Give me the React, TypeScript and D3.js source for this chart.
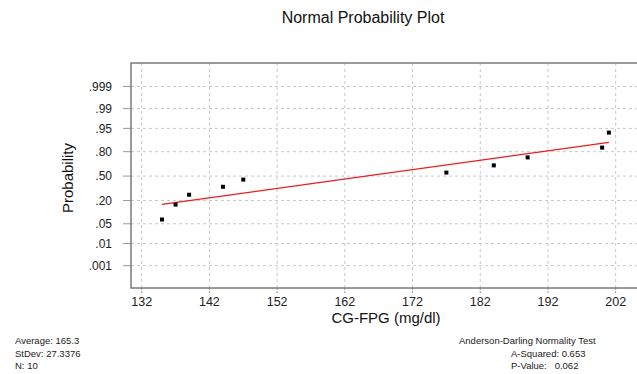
import React, { useEffect, useRef } from "react";
import * as d3 from "d3";

// observed CG-FPG values (mg/dl) and their median-rank plotting positions
const values = [135, 137, 139, 144, 147, 177, 184, 189, 200, 201];
const probs = [0.067, 0.163, 0.26, 0.356, 0.452, 0.548, 0.644, 0.74, 0.837, 0.933];

// fitted line end points [value, probability]
const fitLine: [number, number][] = [
  [135, 0.165],
  [201, 0.877],
];

const xTicks = [132, 142, 152, 162, 172, 182, 192, 202];
const yTicks = [0.001, 0.01, 0.05, 0.2, 0.5, 0.8, 0.95, 0.99, 0.999];
const yTickLabels = [".001", ".01", ".05", ".20", ".50", ".80", ".95", ".99", ".999"];

const statsLeft = ["Average: 165.3", "StDev: 27.3376", "N: 10"];
const statsRight = ["Anderson-Darling Normality Test", "A-Squared: 0.653", "P-Value:   0.062"];

// inverse normal CDF (Acklam)
function probit(p: number): number {
  const a = [-39.69683028665376, 220.9460984245205, -275.9285104469687, 138.357751867269, -30.66479806614716, 2.506628277459239];
  const b = [-54.47609879822406, 161.5858368580409, -155.6989798598866, 66.80131188771972, -13.28068155288572];
  const c = [-0.007784894002430293, -0.3223964580411365, -2.400758277161838, -2.549732539343734, 4.374664141464968, 2.938163982698783];
  const d = [0.007784695709041462, 0.3224671290700398, 2.445134137142996, 3.754408661907416];
  const pl = 0.02425;
  if (p < pl) {
    const q = Math.sqrt(-2 * Math.log(p));
    return (((((c[0] * q + c[1]) * q + c[2]) * q + c[3]) * q + c[4]) * q + c[5]) / ((((d[0] * q + d[1]) * q + d[2]) * q + d[3]) * q + 1);
  }
  if (p > 1 - pl) {
    const q = Math.sqrt(-2 * Math.log(1 - p));
    return -(((((c[0] * q + c[1]) * q + c[2]) * q + c[3]) * q + c[4]) * q + c[5]) / ((((d[0] * q + d[1]) * q + d[2]) * q + d[3]) * q + 1);
  }
  const q = p - 0.5;
  const r = q * q;
  return ((((((a[0] * r + a[1]) * r + a[2]) * r + a[3]) * r + a[4]) * r + a[5]) * q) / (((((b[0] * r + b[1]) * r + b[2]) * r + b[3]) * r + b[4]) * r + 1);
}

const App = () => {
  const svgRef = useRef<SVGSVGElement>(null);

  useEffect(() => {
    const W = 637;
    const H = 374;
    const left = 131, top = 63, right = 650, bottom = 288;
    const font = "Arial, 'Liberation Sans', sans-serif";
    const narrow = "'Liberation Sans Narrow', 'Arial Narrow', 'Liberation Sans', sans-serif";

    const svg = d3.select(svgRef.current).attr("width", W).attr("height", H);
    svg.selectAll("*").remove();

    const x = d3.scaleLinear().domain([130.42, 207.07]).range([left, right]);
    const yz = d3.scaleLinear().domain([-3.86, 3.9]).range([bottom, top]);
    const y = (p: number) => yz(probit(p));

    const grid = svg.append("g").attr("stroke", "#c8c8c8").attr("stroke-dasharray", "3,3").attr("stroke-width", 1);
    yTicks.forEach((t) => {
      grid.append("line").attr("x1", left).attr("x2", W).attr("y1", y(t)).attr("y2", y(t));
    });
    xTicks.forEach((t) => {
      grid.append("line").attr("x1", x(t)).attr("x2", x(t)).attr("y1", top).attr("y2", bottom);
    });

    // tick marks
    const ticks = svg.append("g").attr("stroke", "#999").attr("stroke-width", 1);
    yTicks.forEach((t) => {
      ticks.append("line").attr("x1", left - 8).attr("x2", left).attr("y1", y(t)).attr("y2", y(t));
    });
    xTicks.forEach((t) => {
      ticks.append("line").attr("x1", x(t)).attr("x2", x(t)).attr("y1", bottom).attr("y2", bottom + 6).attr("stroke-dasharray", "2,1");
    });

    // frame
    svg.append("path")
      .attr("d", `M${W},${top}H${left}V${bottom}H${W}`)
      .attr("fill", "none")
      .attr("stroke", "#7a7a7a")
      .attr("stroke-width", 1.5);

    // tick labels
    svg.append("g").selectAll("text").data(yTicks).join("text")
      .attr("x", 112).attr("y", (d) => y(d)).attr("dy", "0.35em")
      .attr("text-anchor", "end").attr("font-family", font).attr("font-size", 12).attr("fill", "#222")
      .text((d, i) => yTickLabels[i]);

    svg.append("g").selectAll("text").data(xTicks).join("text")
      .attr("x", (d) => x(d)).attr("y", 306)
      .attr("text-anchor", "middle").attr("font-family", font).attr("font-size", 12.5).attr("fill", "#222")
      .text((d) => String(d));

    // fitted line
    const line = d3.line<[number, number]>().x((d) => x(d[0])).y((d) => y(d[1]));
    svg.append("path").datum(fitLine).attr("d", line).attr("fill", "none").attr("stroke", "#ee1c1c").attr("stroke-width", 1.3);

    // points
    svg.append("g").selectAll("rect").data(values).join("rect")
      .attr("x", (d) => x(d) - 2).attr("y", (d, i) => y(probs[i]) - 2)
      .attr("width", 4).attr("height", 4).attr("fill", "#000");

    // titles
    svg.append("text").attr("x", 363).attr("y", 23).attr("text-anchor", "middle")
      .attr("font-family", font).attr("font-size", 16).attr("fill", "#111").text("Normal Probability Plot");
    svg.append("text").attr("x", 386).attr("y", 323).attr("text-anchor", "middle")
      .attr("font-family", font).attr("font-size", 15).attr("fill", "#111").text("CG-FPG (mg/dl)");
    svg.append("text").attr("transform", "translate(73,178) rotate(-90)").attr("text-anchor", "middle")
      .attr("font-family", font).attr("font-size", 15).attr("fill", "#111").text("Probability");

    // stats
    svg.append("g").selectAll("text").data(statsLeft).join("text")
      .attr("x", 15).attr("y", (d, i) => 344 + i * 12.5)
      .attr("font-family", narrow).attr("font-size", 9.5).attr("fill", "#222")
      .text((d) => d);
    svg.append("g").selectAll("text").data(statsRight).join("text")
      .attr("x", (d, i) => (i === 0 ? 459 : 511)).attr("y", (d, i) => 344 + i * 12.5)
      .attr("font-family", narrow).attr("font-size", 9.5).attr("fill", "#222")
      .attr("xml:space", "preserve").style("white-space", "pre")
      .text((d) => d);
  }, []);

  return <svg ref={svgRef} style={{ position: "absolute", left: 0, top: 0 }}></svg>;
};

export default App;
